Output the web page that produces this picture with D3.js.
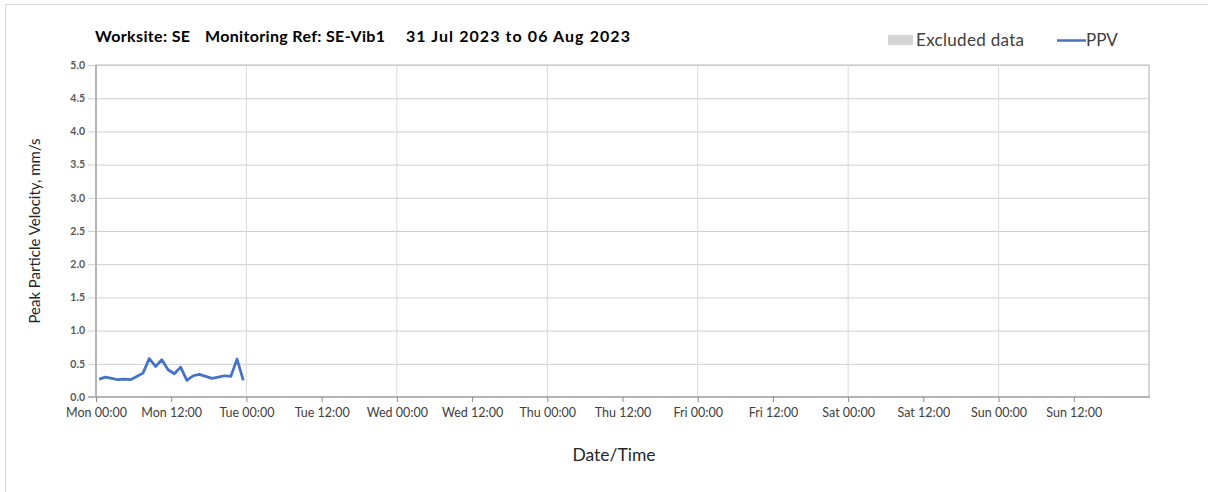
<!DOCTYPE html>
<html>
<head>
<meta charset="utf-8">
<script src="https://cdn.jsdelivr.net/npm/d3@7"></script>
<style>
  html, body { margin: 0; padding: 0; background: #fff; }
  svg { display: block; font-family: Lato, "Noto Sans", sans-serif; }
</style>
</head>
<body>
<svg id="chart" width="1208" height="492"></svg>
<script>
// ---- data ----
const titleParts = ["Worksite: SE", "Monitoring Ref: SE-Vib1", "31 Jul 2023 to 06 Aug 2023"];
const legendLabels = ["Excluded data", "PPV"];
const yAxisTitle = "Peak Particle Velocity, mm/s";
const xAxisTitle = "Date/Time";
// hourly readings on Mon 31 Jul 2023 (hour offset of each reading, from 00:00)
const ppvHours = [0.5, 1.5, 2.5, 3.5, 4.5, 5.5, 6.5, 7.5, 8.5, 9.5, 10.5, 11.5,
                  12.5, 13.5, 14.5, 15.5, 16.5, 17.5, 18.5, 19.5, 20.5, 21.5, 22.5, 23.5];
const ppvValues = [0.27, 0.30, 0.28, 0.26, 0.27, 0.26, 0.31, 0.36, 0.58, 0.46, 0.56, 0.41,
                   0.35, 0.45, 0.25, 0.32, 0.34, 0.31, 0.28, 0.30, 0.32, 0.31, 0.57, 0.25];
const yTickValues = [0, 0.5, 1, 1.5, 2, 2.5, 3, 3.5, 4, 4.5, 5];
const xTickLabels = ["Mon 00:00", "Mon 12:00", "Tue 00:00", "Tue 12:00", "Wed 00:00", "Wed 12:00",
                     "Thu 00:00", "Thu 12:00", "Fri 00:00", "Fri 12:00", "Sat 00:00", "Sat 12:00",
                     "Sun 00:00", "Sun 12:00"];

// ---- layout ----
const svg = d3.select("#chart");
const start = new Date(2023, 6, 31, 0, 0);
const end = new Date(2023, 7, 7, 0, 0);
const plot = { left: 96, right: 1149, top: 65, bottom: 397 };

const x = d3.scaleTime().domain([start, end]).range([plot.left, plot.right]);
const y = d3.scaleLinear().domain([0, 5]).range([plot.bottom, plot.top]);

const xTicks = d3.range(xTickLabels.length).map(i => d3.timeHour.offset(start, 12 * i));
const dayTicks = d3.range(0, 8).map(i => d3.timeDay.offset(start, i));

// outer frame (top and left edges only visible)
svg.append("line").attr("x1", 5.5).attr("x2", 1208).attr("y1", 4.5).attr("y2", 4.5)
  .attr("stroke", "#d9d9d9").attr("stroke-width", 1);
svg.append("line").attr("x1", 5.5).attr("x2", 5.5).attr("y1", 4.5).attr("y2", 492)
  .attr("stroke", "#d9d9d9").attr("stroke-width", 1);

// horizontal gridlines + y axis
const yAxis = d3.axisLeft(y).tickValues(yTickValues).tickFormat(d3.format(".1f"))
  .tickSize(-(plot.right - plot.left) - 8).tickPadding(3);
const gy = svg.append("g").attr("transform", `translate(${plot.left + 0},0)`).call(yAxis);
gy.select(".domain").remove();
gy.selectAll(".tick line").attr("x1", -8).attr("x2", plot.right - plot.left)
  .attr("stroke", "#cfcfcf").attr("stroke-width", 1);
gy.selectAll(".tick text").attr("x", -11).attr("font-size", 10.5).attr("fill", "#595959")
  .attr("font-family", "Lato, sans-serif").attr("font-weight", "bold");

// vertical day gridlines
svg.append("g").selectAll("line").data(dayTicks).join("line")
  .attr("x1", d => x(d)).attr("x2", d => x(d))
  .attr("y1", plot.top).attr("y2", plot.bottom)
  .attr("stroke", "#d9d9d9").attr("stroke-width", 1);

// plot border
svg.append("rect").attr("x", plot.left).attr("y", plot.top)
  .attr("width", plot.right - plot.left).attr("height", plot.bottom - plot.top)
  .attr("fill", "none").attr("stroke", "#bfbfbf").attr("stroke-width", 1);
svg.append("line").attr("x1", plot.left).attr("x2", plot.left)
  .attr("y1", plot.top).attr("y2", plot.bottom).attr("stroke", "#b4b4b4").attr("stroke-width", 2);
svg.append("line").attr("x1", plot.left - 8).attr("x2", plot.right + 1)
  .attr("y1", plot.bottom).attr("y2", plot.bottom).attr("stroke", "#b4b4b4").attr("stroke-width", 2);

// x axis
const xAxis = d3.axisBottom(x).tickValues(xTicks)
  .tickFormat((d, i) => xTickLabels[i]).tickSize(5).tickPadding(6);
const gx = svg.append("g").attr("transform", `translate(0,${plot.bottom})`).call(xAxis);
gx.select(".domain").remove();
gx.selectAll(".tick line").attr("stroke", "#8c8c8c");
gx.selectAll(".tick text").attr("font-size", 12.5).attr("fill", "#404040")
  .attr("font-family", "Lato, sans-serif");

// data line
const pts = ppvHours.map((h, i) => ({ t: new Date(start.getTime() + h * 3600000), v: ppvValues[i] }));
const line = d3.line().x(d => x(d.t)).y(d => y(d.v));
svg.append("path").datum(pts).attr("d", line)
  .attr("fill", "none").attr("stroke", "#4472c4").attr("stroke-width", 2.75)
  .attr("stroke-linejoin", "round");

// title
const titleX = [95, 205, 406];
const titleW = [95, 180, 224];
svg.append("g").selectAll("text").data(titleParts).join("text")
  .attr("x", (d, i) => titleX[i]).attr("y", 42)
  .attr("font-size", 16).attr("font-weight", "bold").attr("fill", "#000")
  .attr("textLength", (d, i) => titleW[i]).attr("lengthAdjust", "spacing")
  .text(d => d);

// legend
const lg = svg.append("g");
lg.append("rect").attr("x", 888).attr("y", 35).attr("width", 25).attr("height", 10).attr("fill", "#d3d3d3");
lg.append("text").attr("x", 916).attr("y", 46).attr("font-size", 17).attr("fill", "#404040")
  .attr("textLength", 108).attr("lengthAdjust", "spacing").text(legendLabels[0]);
lg.append("line").attr("x1", 1057).attr("x2", 1086).attr("y1", 40.5).attr("y2", 40.5)
  .attr("stroke", "#4472c4").attr("stroke-width", 2.5);
lg.append("text").attr("x", 1086).attr("y", 46).attr("font-size", 17).attr("fill", "#404040").text(legendLabels[1]);

// axis titles
svg.append("text").attr("transform", "translate(40,231) rotate(-90)")
  .attr("text-anchor", "middle").attr("font-size", 15).attr("fill", "#262626").text(yAxisTitle);
svg.append("text").attr("x", 614).attr("y", 461)
  .attr("text-anchor", "middle").attr("font-size", 17.5).attr("fill", "#262626").text(xAxisTitle);
</script>
</body>
</html>
